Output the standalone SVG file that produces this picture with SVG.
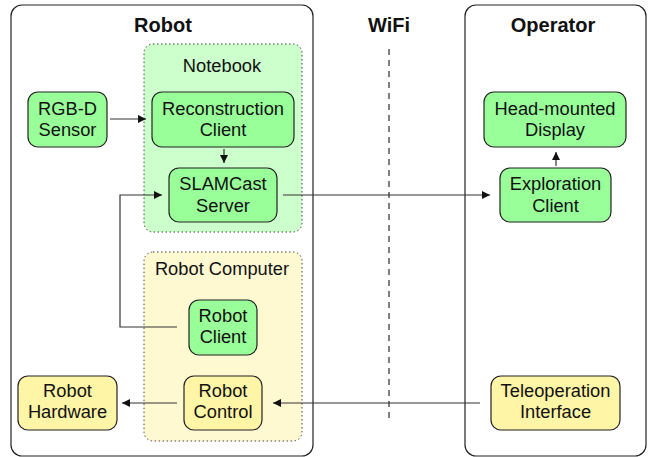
<svg xmlns="http://www.w3.org/2000/svg" width="651" height="457" viewBox="0 0 651 457">
<defs>
<style>
text{font-family:"Liberation Sans",Arial,sans-serif;fill:#111;text-anchor:middle}
.t{font-size:18.3px}
.h{font-size:20px;font-weight:bold}
.g{fill:#99ff99;stroke:#222;stroke-width:1.2}
.y{fill:#fff5a6;stroke:#222;stroke-width:1.2}
.frame{fill:#fff;stroke:#222;stroke-width:1.2}
.grp{stroke:#444;stroke-width:1;stroke-dasharray:1.5 2.5}
.c{fill:none;stroke:#333;stroke-width:1.2}
</style>
<marker id="ah" viewBox="0 0 10 10" refX="10" refY="5" markerWidth="8" markerHeight="8" markerUnits="userSpaceOnUse" orient="auto">
<path d="M0,0 L10,5 L0,10 z" fill="#111"/>
</marker>
</defs>
<rect width="651" height="457" fill="#fff"/>
<g id="robot-frame">
<rect class="frame" x="11" y="5" width="302" height="451" rx="11"/>
<text class="h" x="163" y="32">Robot</text>
</g>
<g id="operator-frame">
<rect class="frame" x="465" y="5" width="181" height="451" rx="11"/>
<text class="h" x="553" y="32">Operator</text>
</g>
<g id="wifi">
<text class="h" x="389" y="32">WiFi</text>
<line x1="389" y1="49" x2="389" y2="423" stroke="#555" stroke-width="1.5" stroke-dasharray="6 5"/>
</g>
<g id="notebook">
<rect class="grp" x="144" y="44" width="158" height="188" rx="9" fill="#ccffcc"/>
<text class="t" x="222" y="72">Notebook</text>
</g>
<g id="robot-computer">
<rect class="grp" x="144" y="252" width="158" height="189" rx="9" fill="#fff9d2"/>
<text class="t" x="222" y="275">Robot Computer</text>
</g>
<g id="rgbd-sensor">
<rect class="g" x="28" y="92" width="79" height="55" rx="10"/>
<text class="t" x="67.5" y="115">RGB-D</text>
<text class="t" x="67.5" y="136">Sensor</text>
</g>
<g id="reconstruction-client">
<rect class="g" x="152" y="92" width="142" height="55" rx="10"/>
<text class="t" x="223" y="115">Reconstruction</text>
<text class="t" x="223" y="136">Client</text>
</g>
<g id="slamcast-server">
<rect class="g" x="169" y="168" width="108" height="54" rx="10"/>
<text class="t" x="223" y="190">SLAMCast</text>
<text class="t" x="223" y="212">Server</text>
</g>
<g id="robot-client">
<rect class="g" x="189" y="300" width="68" height="55" rx="10"/>
<text class="t" x="223" y="322">Robot</text>
<text class="t" x="223" y="343">Client</text>
</g>
<g id="robot-control">
<rect class="y" x="184" y="376" width="78" height="54" rx="10"/>
<text class="t" x="223" y="397">Robot</text>
<text class="t" x="223" y="418">Control</text>
</g>
<g id="robot-hardware">
<rect class="y" x="18" y="376" width="99" height="54" rx="10"/>
<text class="t" x="67.5" y="397">Robot</text>
<text class="t" x="67.5" y="418">Hardware</text>
</g>
<g id="head-mounted-display">
<rect class="g" x="484" y="92" width="142" height="55" rx="10"/>
<text class="t" x="555" y="115">Head-mounted</text>
<text class="t" x="555" y="136">Display</text>
</g>
<g id="exploration-client">
<rect class="g" x="500" y="168" width="111" height="54" rx="10"/>
<text class="t" x="555.5" y="190">Exploration</text>
<text class="t" x="555.5" y="212">Client</text>
</g>
<g id="teleoperation-interface">
<rect class="y" x="491" y="376" width="129" height="54" rx="10"/>
<text class="t" x="555.5" y="397">Teleoperation</text>
<text class="t" x="555.5" y="418">Interface</text>
</g>
<g id="connectors">
<line class="c" x1="110" y1="119" x2="146" y2="119" marker-end="url(#ah)"/>
<line class="c" x1="224" y1="149" x2="224" y2="163" marker-end="url(#ah)"/>
<path class="c" d="M177,327 H120 V195 H162" marker-end="url(#ah)"/>
<line class="c" x1="283" y1="195" x2="490" y2="195" marker-end="url(#ah)"/>
<line class="c" x1="556" y1="166" x2="556" y2="152" marker-end="url(#ah)"/>
<line class="c" x1="480" y1="403" x2="273" y2="403" marker-end="url(#ah)"/>
<line class="c" x1="177" y1="403" x2="122" y2="403" marker-end="url(#ah)"/>
</g>
</svg>
